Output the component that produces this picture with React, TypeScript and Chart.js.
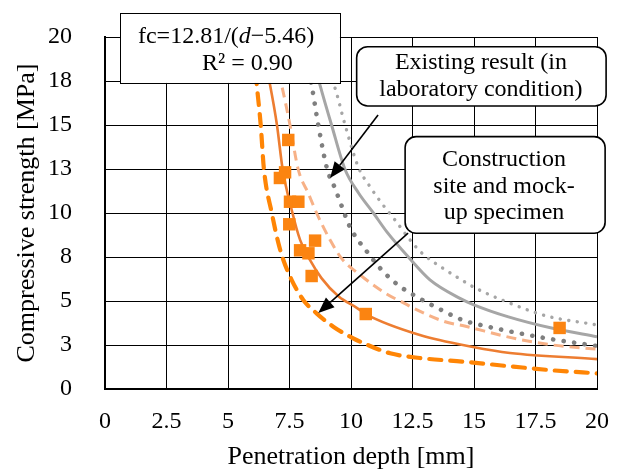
import React, { useEffect, useRef } from 'react';
import { Chart, registerables } from 'chart.js';

Chart.register(...registerables);

// Measured points (construction site and mock-up specimen)
const measuredDepth = [7.45, 7.32, 7.11, 7.52, 7.86, 7.49, 8.54, 7.93, 8.27, 8.40, 10.6, 18.48];
const measuredStrength = [14.15, 12.31, 11.99, 10.64, 10.64, 9.36, 8.43, 7.88, 7.71, 6.42, 4.26, 3.47];

// Fitted curve (solid orange)
const fitDepth = [6.60, 6.71, 6.99, 7.22, 7.59, 7.93, 8.33, 8.8, 9.5, 10.25, 10.6, 12.8, 14.96, 16.46, 20];
const fitStrength = [18.0, 17.27, 15.0, 12.5, 10.17, 8.47, 7.33, 6.3, 5.25, 4.6, 4.26, 3.07, 2.39, 2.05, 1.70];

// Lower bound (thick dashed orange)
const lowDepth = [6.12, 6.17, 6.33, 6.46, 6.78, 7.05, 7.25, 7.59, 8.06, 8.60, 9.28, 10.09, 10.6, 11.59, 12.8, 14.6, 16.6, 18.2, 20];
const lowStrength = [18, 17.27, 15, 12.5, 10, 8.28, 7.33, 6.19, 5.06, 4.3, 3.54, 2.88, 2.55, 2.03, 1.76, 1.55, 1.27, 1.06, 0.89];

// Upper bound (light dashed orange)
const highDepth = [7.05, 7.18, 7.52, 7.85, 8.27, 8.67, 9.15, 9.6, 10.4, 11.4, 12.2, 12.6, 13.76, 14.7, 16.5, 18.2, 20];
const highStrength = [18, 17.27, 15, 12.5, 11.1, 9.79, 8.47, 7.45, 6.45, 5.44, 4.85, 4.55, 3.85, 3.55, 2.92, 2.5, 2.26];

// Existing result, lower (dark grey dots)
const labLowDepth = [8.30, 8.40, 8.67, 9.03, 9.35, 9.62, 9.96, 10.7, 11.25, 11.92, 12.67, 13.41, 14.57, 15.38, 16.19, 17.95, 20];
const labLowStrength = [18, 17.27, 15, 12.5, 11.4, 10.4, 9.2, 7.71, 6.76, 5.9, 5.24, 4.68, 3.9, 3.6, 3.35, 2.88, 2.44];

// Existing result, mean (grey solid)
const labMidDepth = [8.60, 8.74, 9.21, 9.75, 10.3, 10.91, 11.45, 12.33, 13.21, 14.43, 14.97, 16.4, 18.2, 20];
const labMidStrength = [18, 17.27, 15, 12.5, 11.15, 10.0, 8.94, 7.5, 6.2, 5.15, 4.8, 4.1, 3.45, 2.97];

// Existing result, upper (light grey dots)
const labHighDepth = [9.1, 9.35, 9.76, 10.3, 10.77, 11.25, 11.79, 12.4, 12.9, 13.75, 14.43, 15.04, 16.33, 17.95, 20];
const labHighStrength = [18, 17.1, 15, 12.6, 11.5, 10.55, 9.6, 8.47, 7.7, 6.85, 6.25, 5.75, 4.95, 4.15, 3.64];

const xTickStep = 2.5;
const yTickStep = 2.5;
const axisMax = 20;

const xTitle = 'Penetration depth [mm]';
const yTitle = 'Compressive strength [MPa]';
const eqParts = ['fc=12.81/(', 'd', '\u22125.46)'];
const r2Text = 'R\u00B2 = 0.90';
const labNote = ['Existing result (in', 'laboratory condition)'];
const siteNote = ['Construction', 'site and mock-', 'up specimen'];

const FONT = "'Liberation Serif', 'Times New Roman', serif";

const pts = (xs: number[], ys: number[]) => xs.map((x, i) => ({ x, y: ys[i] }));

function drawArrow(ctx: CanvasRenderingContext2D, x1: number, y1: number, x2: number, y2: number) {
  const ang = Math.atan2(y2 - y1, x2 - x1);
  const head = 16;
  const half = 6.5;
  const bx = x2 - head * Math.cos(ang);
  const by = y2 - head * Math.sin(ang);
  ctx.beginPath();
  ctx.moveTo(x1, y1);
  ctx.lineTo(bx, by);
  ctx.lineWidth = 1.6;
  ctx.strokeStyle = '#000';
  ctx.stroke();
  ctx.beginPath();
  ctx.moveTo(x2, y2);
  ctx.lineTo(bx + half * Math.sin(ang), by - half * Math.cos(ang));
  ctx.lineTo(bx - half * Math.sin(ang), by + half * Math.cos(ang));
  ctx.closePath();
  ctx.fillStyle = '#000';
  ctx.fill();
}

const notesPlugin = {
  id: 'notes',
  afterDraw(chart: any) {
    const { ctx } = chart;
    const xs = chart.scales.x;
    const ys = chart.scales.y;
    const px = (v: number) => xs.getPixelForValue(v);
    const py = (v: number) => ys.getPixelForValue(v);
    ctx.save();

    // arrows
    drawArrow(ctx, px(11.10), py(15.57), px(9.15), py(11.99));
    drawArrow(ctx, px(12.32), py(8.86), px(8.67), py(4.32));

    // equation box
    const ex1 = px(0.61), ex2 = px(9.55), ey1 = py(21.36), ey2 = py(17.39);
    ctx.fillStyle = '#fff';
    ctx.fillRect(ex1, ey1, ex2 - ex1, ey2 - ey1);
    ctx.lineWidth = 1;
    ctx.strokeStyle = '#000';
    ctx.strokeRect(Math.round(ex1) + 0.5, Math.round(ey1) + 0.5, Math.round(ex2 - ex1), Math.round(ey2 - ey1));

    ctx.fillStyle = '#000';
    ctx.textBaseline = 'middle';
    ctx.textAlign = 'left';
    let tx = px(1.34);
    const ty = py(20);
    ctx.font = `24px ${FONT}`;
    ctx.fillText(eqParts[0], tx, ty);
    tx += ctx.measureText(eqParts[0]).width;
    ctx.font = `italic 24px ${FONT}`;
    ctx.fillText(eqParts[1], tx, ty);
    tx += ctx.measureText(eqParts[1]).width;
    ctx.font = `24px ${FONT}`;
    ctx.fillText(eqParts[2], tx, ty);
    ctx.fillText(r2Text, px(3.94), py(18.47));

    // rounded note boxes
    const roundBox = (a: number, b: number, c: number, d: number) => {
      const x1 = px(a), x2 = px(b), y1 = py(c), y2 = py(d);
      ctx.beginPath();
      (ctx as any).roundRect(x1, y1, x2 - x1, y2 - y1, 11);
      ctx.fillStyle = '#fff';
      ctx.fill();
      ctx.lineWidth = 1.6;
      ctx.strokeStyle = '#000';
      ctx.stroke();
    };
    roundBox(10.23, 20.37, 19.45, 16.08);
    roundBox(12.20, 20.33, 14.34, 8.85);

    ctx.fillStyle = '#000';
    ctx.textAlign = 'center';
    ctx.font = `24px ${FONT}`;
    const labY = [18.52, 16.99];
    labNote.forEach((t, i) => ctx.fillText(t, px(15.28), py(labY[i])));
    const siteY = [13.01, 11.5, 9.99];
    siteNote.forEach((t, i) => ctx.fillText(t, px(16.22), py(siteY[i])));

    ctx.restore();
  },
};

export default function App() {
  const ref = useRef<HTMLCanvasElement | null>(null);

  useEffect(() => {
    if (!ref.current) return;
    const lineDs = (label: string, data: any[], color: string, width: number, dash: number[], cap: CanvasLineCap = 'butt') => ({
      type: 'scatter' as const,
      label,
      data,
      showLine: true,
      borderColor: color,
      backgroundColor: color,
      borderWidth: width,
      borderDash: dash,
      borderCapStyle: cap,
      pointRadius: 0,
      cubicInterpolationMode: 'monotone' as const,
    });

    const chart = new Chart(ref.current, {
      type: 'scatter',
      data: {
        datasets: [
          {
            label: 'Measured',
            data: pts(measuredDepth, measuredStrength),
            pointStyle: 'rect',
            pointRadius: 8.8,
            backgroundColor: '#FB8411',
            borderWidth: 0,
            showLine: false,
          } as any,
          lineDs('Fit', pts(fitDepth, fitStrength), '#ED7D31', 2.6, []),
          lineDs('Lower', pts(lowDepth, lowStrength), '#FF8505', 4.2, [12, 9], 'round'),
          lineDs('Upper', pts(highDepth, highStrength), '#F7B187', 3, [10, 6]),
          lineDs('Lab lower', pts(labLowDepth, labLowStrength), '#7F7F7F', 4.6, [0.1, 10.5], 'round'),
          lineDs('Lab mean', pts(labMidDepth, labMidStrength), '#A6A6A6', 3, []),
          lineDs('Lab upper', pts(labHighDepth, labHighStrength), '#A6A6A6', 3.4, [0.1, 8.5], 'round'),
        ],
      },
      options: {
        responsive: false,
        animation: false,
        events: [],
        layout: { padding: { top: 37, right: 22, left: 0, bottom: 0 } },
        plugins: {
          legend: { display: false },
          tooltip: { enabled: false },
        },
        scales: {
          x: {
            type: 'linear',
            position: 'bottom',
            min: 0,
            max: axisMax,
            ticks: {
              stepSize: xTickStep,
              padding: 0,
              color: '#000',
              font: { family: FONT, size: 24 },
              callback: (v: any) => String(v),
            },
            grid: { color: '#000', lineWidth: 1, drawTicks: true, tickLength: 18, tickColor: 'rgba(0,0,0,0)' },
            border: { display: true, color: '#000', width: 2 },
            title: {
              display: true,
              text: xTitle,
              color: '#000',
              font: { family: FONT, size: 26 },
              padding: { top: 0, bottom: 0 },
            },
            afterFit: (s: any) => { s.height = 84; },
          },
          y: {
            type: 'linear',
            min: 0,
            max: axisMax,
            ticks: {
              stepSize: yTickStep,
              padding: 0,
              color: '#000',
              font: { family: FONT, size: 24 },
              callback: (v: any) => String(Math.round(Number(v))),
            },
            grid: { color: '#000', lineWidth: 1, drawTicks: true, tickLength: 33, tickColor: 'rgba(0,0,0,0)' },
            border: { display: true, color: '#000', width: 2 },
            title: {
              display: true,
              text: yTitle,
              color: '#000',
              font: { family: FONT, size: 26 },
              padding: { top: 12, bottom: 0 },
            },
            afterFit: (s: any) => { s.width = 105; },
          },
        },
      } as any,
      plugins: [notesPlugin],
    });
    return () => chart.destroy();
  }, []);

  return (
    <div style={{ position: 'absolute', left: 0, top: 0, width: 619, height: 473, background: '#fff' }}>
      <canvas ref={ref} width={619} height={473} style={{ width: 619, height: 473, display: 'block' }} />
    </div>
  );
}
